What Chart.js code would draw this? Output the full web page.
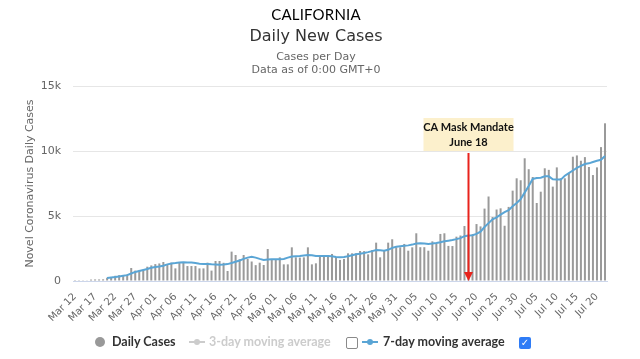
<!DOCTYPE html>
<html>
<head>
<meta charset="utf-8">
<script src="https://cdn.jsdelivr.net/npm/chart.js@4/dist/chart.umd.min.js"></script>
<style>
  html, body { margin: 0; padding: 0; background: #fff; }
  #wrap { position: relative; width: 640px; height: 359px; overflow: hidden; }
  #c { position: absolute; left: 0; top: 0; }
  .t { position: absolute; left: 0; width: 632px; text-align: center; white-space: nowrap; }
  #t1 { top: 5px; font: 400 15px 'Lato', sans-serif; color: #000; letter-spacing: 0.2px; }
  #t2 { top: 26px; font: 400 16px 'DejaVu Sans', sans-serif; color: #333; }
  #t3 { top: 50px; font: 400 11px 'DejaVu Sans', sans-serif; color: #666; }
  #t4 { top: 63px; font: 400 11px 'DejaVu Sans', sans-serif; color: #666; }
  .lg { position: absolute; top: 334px; font: 700 12.5px 'Lato', sans-serif; white-space: nowrap; line-height: 16px; }
  .dot { position: absolute; width: 10px; height: 10px; border-radius: 50%; }
  .ln { position: absolute; height: 2px; }
  .cb { position: absolute; box-sizing: border-box; border-radius: 2px; }
</style>
</head>
<body>
<div id="wrap">
  <canvas id="c" width="640" height="359"></canvas>
  <div class="t" id="t1">CALIFORNIA</div>
  <div class="t" id="t2">Daily New Cases</div>
  <div class="t" id="t3">Cases per Day</div>
  <div class="t" id="t4">Data as of 0:00 GMT+0</div>

  <div class="dot" style="left:95px;top:337px;background:#999;"></div>
  <div class="lg" style="left:112px;color:#333;">Daily Cases</div>

  <div class="ln" style="left:189px;top:341px;width:16px;background:#ccc;"></div>
  <div class="dot" style="left:194px;top:339px;width:6px;height:6px;background:#ccc;"></div>
  <div class="lg" style="left:209px;color:#ccc;">3-day moving average</div>
  <div class="cb" style="left:346px;top:337px;width:12px;height:12px;border:1px solid #8a8a8a;background:#fff;"></div>

  <div class="ln" style="left:362px;top:341px;width:16px;background:#5aa5d5;"></div>
  <div class="dot" style="left:367px;top:339px;width:6px;height:6px;background:#5aa5d5;"></div>
  <div class="lg" style="left:383px;color:#333;">7-day moving average</div>
  <div class="cb" style="left:519px;top:337px;width:12px;height:12px;background:#2f7cf6;color:#fff;font:700 10px 'DejaVu Sans',sans-serif;text-align:center;line-height:12px;">✓</div>
</div>
<script>
// ---- data ----
const categories = [
  'Mar 12','Mar 13','Mar 14','Mar 15','Mar 16','Mar 17','Mar 18','Mar 19','Mar 20','Mar 21',
  'Mar 22','Mar 23','Mar 24','Mar 25','Mar 26','Mar 27','Mar 28','Mar 29','Mar 30','Mar 31',
  'Apr 01','Apr 02','Apr 03','Apr 04','Apr 05','Apr 06','Apr 07','Apr 08','Apr 09','Apr 10',
  'Apr 11','Apr 12','Apr 13','Apr 14','Apr 15','Apr 16','Apr 17','Apr 18','Apr 19','Apr 20',
  'Apr 21','Apr 22','Apr 23','Apr 24','Apr 25','Apr 26','Apr 27','Apr 28','Apr 29','Apr 30',
  'May 01','May 02','May 03','May 04','May 05','May 06','May 07','May 08','May 09','May 10',
  'May 11','May 12','May 13','May 14','May 15','May 16','May 17','May 18','May 19','May 20',
  'May 21','May 22','May 23','May 24','May 25','May 26','May 27','May 28','May 29','May 30',
  'May 31','Jun 01','Jun 02','Jun 03','Jun 04','Jun 05','Jun 06','Jun 07','Jun 08','Jun 09',
  'Jun 10','Jun 11','Jun 12','Jun 13','Jun 14','Jun 15','Jun 16','Jun 17','Jun 18','Jun 19',
  'Jun 20','Jun 21','Jun 22','Jun 23','Jun 24','Jun 25','Jun 26','Jun 27','Jun 28','Jun 29',
  'Jun 30','Jul 01','Jul 02','Jul 03','Jul 04','Jul 05','Jul 06','Jul 07','Jul 08','Jul 09',
  'Jul 10','Jul 11','Jul 12','Jul 13','Jul 14','Jul 15','Jul 16','Jul 17','Jul 18','Jul 19',
  'Jul 20','Jul 21','Jul 22'
];

const dailyCases = [
  10,15,20,25,110,120,120,130,250,300,
  400,450,450,500,1000,800,850,850,1100,1200,
  1300,1350,1460,1280,1410,970,1410,1460,1150,1150,
  1150,970,970,1410,800,1540,1540,1400,770,2260,
  2000,1670,2000,1700,1500,1220,1410,1230,2460,1620,
  1620,1820,1280,1280,2590,1820,1800,1820,2590,1280,
  1360,2000,2000,2000,2080,1820,1620,1700,2130,2130,
  2130,2310,2300,2050,2380,2950,1820,2310,2950,3210,
  2590,2590,2850,2330,2590,3670,2600,2600,2330,3050,
  2880,3620,3670,2700,2690,3410,3500,4230,3500,3600,
  4380,4200,5570,6500,4920,5500,5590,4250,5700,6950,
  7900,7750,9440,8600,8000,6000,6870,8670,8550,7260,
  8740,7900,7900,8300,9560,9660,9250,9530,8770,8150,
  8740,10300,12130
];

const sevenDayAverage = [
  null,null,null,null,null,null,null,null,230,270,
  300,350,400,450,580,700,770,850,920,1020,
  1080,1120,1180,1280,1350,1380,1420,1440,1430,1420,
  1380,1330,1310,1300,1280,1270,1250,1270,1300,1380,
  1480,1580,1700,1800,1860,1800,1700,1620,1650,1670,
  1680,1670,1700,1800,1880,1900,1920,1970,2000,1980,
  1930,1920,1920,1930,1900,1850,1820,1850,1900,1980,
  2050,2100,2150,2220,2300,2380,2360,2330,2400,2550,
  2640,2680,2720,2740,2800,2880,2900,2880,2850,2880,
  2920,2980,3050,3100,3150,3220,3300,3450,3500,3520,
  3620,3800,4150,4450,4750,4900,5100,5300,5450,5750,
  6000,6300,6800,7300,7850,7930,7950,8050,8050,7820,
  7800,7800,8100,8300,8500,8700,8850,9000,9050,9150,
  9250,9320,9620
];

const yTickValues = [0, 5000, 10000, 15000];
const yTickLabels = ['0', '5k', '10k', '15k'];
const xLabelEvery = 5;

const maskDate = 'Jun 18';
const maskLines = ['CA Mask Mandate', 'June 18'];
const maskBoxBottomValue = 10000;

// ---- annotation plugin ----
const maskAnnotation = {
  id: 'maskAnnotation',
  afterDatasetsDraw(chart) {
    const { ctx, scales: { x, y } } = chart;
    const px = Math.round(x.getPixelForValue(categories.indexOf(maskDate))) + 0.5;
    const boxBottom = y.getPixelForValue(maskBoxBottomValue);
    const yZero = y.getPixelForValue(0);
    ctx.save();
    ctx.strokeStyle = '#e8231c';
    ctx.fillStyle = '#e8231c';
    ctx.lineWidth = 2;
    ctx.beginPath();
    ctx.moveTo(px, boxBottom + 2);
    ctx.lineTo(px, yZero - 8);
    ctx.stroke();
    ctx.beginPath();
    ctx.moveTo(px - 4.5, yZero - 9);
    ctx.lineTo(px + 4.5, yZero - 9);
    ctx.lineTo(px, yZero);
    ctx.closePath();
    ctx.fill();
    const w = 90, h = 33;
    ctx.fillStyle = '#fcf0cc';
    ctx.fillRect(px - w / 2, boxBottom - h, w, h);
    ctx.fillStyle = '#111';
    ctx.font = '700 11px Lato, sans-serif';
    ctx.textAlign = 'center';
    ctx.textBaseline = 'middle';
    ctx.fillText(maskLines[0], px, boxBottom - h + 9.5);
    ctx.fillText(maskLines[1], px, boxBottom - h + 24);
    ctx.restore();
  }
};

new Chart(document.getElementById('c'), {
  data: {
    labels: categories,
    datasets: [
      {
        type: 'line',
        label: '7-day moving average',
        data: sevenDayAverage,
        borderColor: '#5aa5d5',
        backgroundColor: '#5aa5d5',
        borderWidth: 2,
        pointRadius: 0,
        tension: 0,
        order: 1
      },
      {
        type: 'bar',
        label: 'Daily Cases',
        data: dailyCases,
        backgroundColor: '#9a9a9a',
        barPercentage: 0.5,
        categoryPercentage: 1,
        order: 2
      }
    ]
  },
  options: {
    responsive: false,
    animation: false,
    layout: { padding: { top: 86, right: 33, bottom: 0, left: 0 } },
    plugins: {
      legend: { display: false },
      tooltip: { enabled: false },
      title: { display: false }
    },
    scales: {
      x: {
        type: 'category',
        offset: true,
        grid: { display: false },
        border: { display: true, color: '#ccd6eb', width: 1 },
        ticks: {
          autoSkip: false,
          minRotation: 45,
          maxRotation: 45,
          padding: 2,
          color: '#666',
          font: { family: 'DejaVu Sans', size: 10 },
          callback: (v, i) => (i % xLabelEvery === 0 ? categories[i] : '')
        },
        afterFit: s => { s.height = 78; }
      },
      y: {
        min: 0,
        max: 15000,
        afterBuildTicks: s => { s.ticks = yTickValues.map(v => ({ value: v })); },
        grid: { color: '#e6e6e6', drawTicks: false },
        border: { display: false },
        ticks: {
          padding: 12,
          color: '#666',
          font: { family: 'DejaVu Sans', size: 11 },
          callback: v => yTickLabels[yTickValues.indexOf(v)]
        },
        title: {
          display: true,
          text: 'Novel Coronavirus Daily Cases',
          color: '#666',
          font: { family: 'DejaVu Sans', size: 11 },
          padding: { top: 24, bottom: 0 }
        },
        afterFit: s => { s.width = 73; }
      }
    }
  },
  plugins: [maskAnnotation]
});
</script>
</body>
</html>
